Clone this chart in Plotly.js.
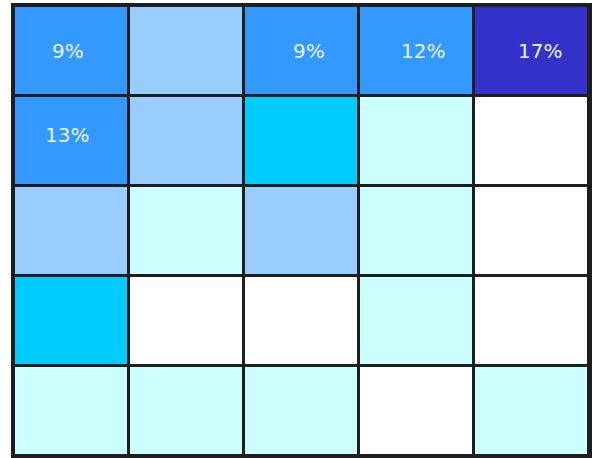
<!DOCTYPE html>
<html>
<head>
<meta charset="utf-8">
<script src="https://cdn.plot.ly/plotly-3.0.1.min.js"></script>
<style>html,body{margin:0;padding:0;background:#fff;}#chart{width:596px;height:458px;}</style>
</head>
<body>
<div id="chart"></div>
<script>
// Column and row categories
var columns = ["C1", "C2", "C3", "C4", "C5"];
var rows = ["R1", "R2", "R3", "R4", "R5"];
// Colour level of each cell (0 = white ... 5 = dark blue)
var levelsR1 = [4, 2, 4, 4, 5];
var levelsR2 = [4, 2, 3, 1, 0];
var levelsR3 = [2, 1, 2, 1, 0];
var levelsR4 = [3, 0, 0, 1, 0];
var levelsR5 = [1, 1, 1, 0, 1];
// Cell labels
var labelsR1 = ["9%", "", "9%", "12%", "17%"];
var labelsR2 = ["13%", "", "", "", ""];
var labelsR3 = ["", "", "", "", ""];
var labelsR4 = ["", "", "", "", ""];
var labelsR5 = ["", "", "", "", ""];

// Styling (not data)
var levelColors = ["#FFFFFF", "#CCFFFF", "#99CCFF", "#00CCFF", "#3399FF", "#3333CC"];
var labelShiftX = [[-4, 0, 7, 6, 8], [-5, 0, 0, 0, 0]];
var labelShiftY = [[0, 0, 0, 0, 0], [6, 0, 0, 0, 0]];

var z = [levelsR1, levelsR2, levelsR3, levelsR4, levelsR5];
var text = [labelsR1, labelsR2, labelsR3, labelsR4, labelsR5];
var colorscale = levelColors.map(function (c, i) { return [i / (levelColors.length - 1), c]; });

var trace = {
  type: "heatmap",
  x: columns,
  y: rows,
  z: z,
  colorscale: colorscale,
  zmin: 0,
  zmax: levelColors.length - 1,
  showscale: false,
  xgap: 3,
  ygap: 3,
  hoverinfo: "skip"
};

var annotations = [];
text.forEach(function (row, i) {
  row.forEach(function (t, j) {
    if (!t) return;
    annotations.push({
      x: columns[j], y: rows[i], xref: "x", yref: "y",
      text: t, showarrow: false,
      xshift: (labelShiftX[i] || [])[j] || 0,
      yshift: (labelShiftY[i] || [])[j] || 0,
      font: {family: "DejaVu Sans", size: 20, color: "#EAF2FF"}
    });
  });
});

var axisCommon = {
  showticklabels: false,
  ticks: "",
  showgrid: false,
  zeroline: false,
  showline: true,
  mirror: true,
  linecolor: "#1e1e1e",
  linewidth: 3
};

var layout = {
  width: 596,
  height: 458,
  margin: {l: 14, r: 7, t: 6, b: 2, pad: 0},
  paper_bgcolor: "#FFFFFF",
  plot_bgcolor: "#1e1e1e",
  xaxis: Object.assign({}, axisCommon),
  yaxis: Object.assign({autorange: "reversed"}, axisCommon),
  annotations: annotations,
  showlegend: false
};

Plotly.newPlot("chart", [trace], layout, {displayModeBar: false, staticPlot: true});
</script>
</body>
</html>
